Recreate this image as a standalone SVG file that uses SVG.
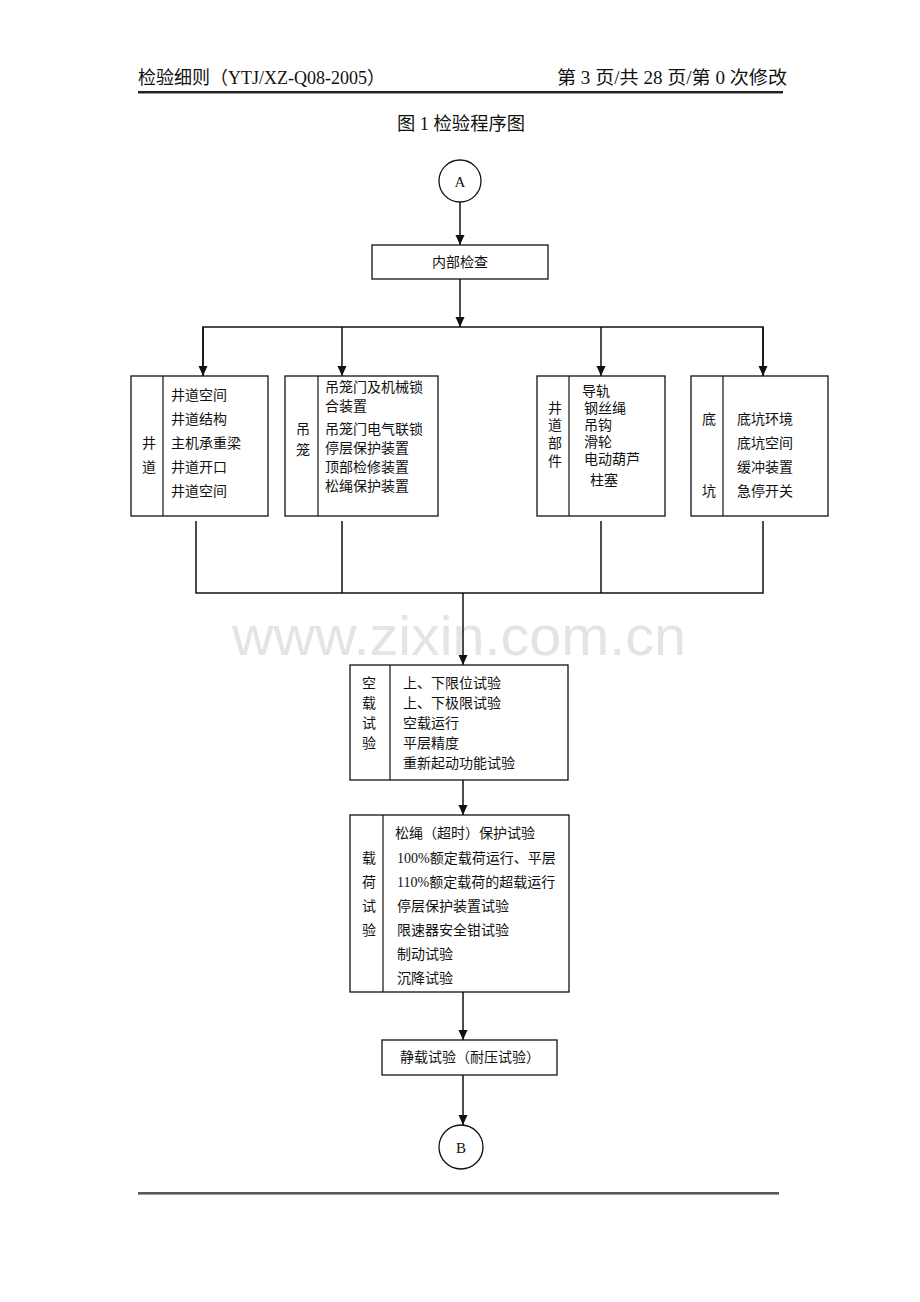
<svg xmlns="http://www.w3.org/2000/svg" width="920" height="1302" viewBox="0 0 920 1302">
<style>
text{font-family:"Liberation Serif","Noto Sans CJK SC",serif;fill:#111;font-size:14px}
.hd{font-size:18px}
.tt{font-size:18px}
.box{fill:#fff;stroke:#111;stroke-width:1.3}
.dv{stroke:#111;stroke-width:1.2}
.ln{fill:none;stroke:#111;stroke-width:1.5}
.c{text-anchor:middle}
.wm{font-family:"Liberation Sans",Arial,sans-serif;font-size:56px;fill:#e4e4e4}
</style>
<defs>
<marker id="ah" markerUnits="userSpaceOnUse" markerWidth="12" markerHeight="12" viewBox="0 0 12 12" refX="10" refY="6" orient="auto">
<path d="M0,1.5 L10,6 L0,10.5 Z" fill="#111"/>
</marker>
</defs>
<rect width="920" height="1302" fill="#fff"/>
<g id="header">
<text class="hd" x="138" y="84" textLength="247" lengthAdjust="spacingAndGlyphs">检验细则（YTJ/XZ-Q08-2005）</text>
<text class="hd" x="557" y="84" textLength="230" lengthAdjust="spacingAndGlyphs">第 3 页/共 28 页/第 0 次修改</text>
<line x1="138" y1="92" x2="783" y2="92" stroke="#222" stroke-width="2"/>
<line x1="138" y1="93.5" x2="783" y2="93.5" stroke="#999" stroke-width="1"/>
<text class="tt" x="397" y="130" textLength="128" lengthAdjust="spacingAndGlyphs">图 1 检验程序图</text>
</g>
<text class="wm" x="232" y="655" textLength="454" lengthAdjust="spacingAndGlyphs">www.zixin.com.cn</text>
<g id="connectors">
<line class="ln" x1="460" y1="202" x2="460" y2="245" marker-end="url(#ah)"/>
<line class="ln" x1="460" y1="279" x2="460" y2="327" marker-end="url(#ah)"/>
<polyline class="ln" points="203,376 203,327 763,327 763,376"/>
<line class="ln" x1="203" y1="327" x2="203" y2="376" marker-end="url(#ah)"/>
<line class="ln" x1="342" y1="327" x2="342" y2="376" marker-end="url(#ah)"/>
<line class="ln" x1="601" y1="327" x2="601" y2="376" marker-end="url(#ah)"/>
<line class="ln" x1="763" y1="327" x2="763" y2="376" marker-end="url(#ah)"/>
<polyline class="ln" points="196,521 196,593 763,593 763,521"/>
<line class="ln" x1="342" y1="521" x2="342" y2="593"/>
<line class="ln" x1="601" y1="521" x2="601" y2="593"/>
<line class="ln" x1="463" y1="593" x2="463" y2="665" marker-end="url(#ah)"/>
<line class="ln" x1="463" y1="780" x2="463" y2="815" marker-end="url(#ah)"/>
<line class="ln" x1="463" y1="992" x2="463" y2="1040" marker-end="url(#ah)"/>
<line class="ln" x1="463" y1="1075" x2="463" y2="1125" marker-end="url(#ah)"/>
</g>
<g id="nodeA">
<circle cx="460" cy="181" r="21" fill="#fff" stroke="#111" stroke-width="1.3"/>
<text class="c" x="460" y="187" style="font-size:15px">A</text>
</g>
<g id="inner">
<rect class="box" x="372" y="245" width="176" height="34"/>
<text class="c" x="460" y="267">内部检查</text>
</g>
<g id="shaft">
<rect class="box" x="131" y="376" width="137" height="140"/>
<line class="dv" x1="163" y1="376" x2="163" y2="516"/>
<text class="c" x="149" y="448">井</text>
<text class="c" x="149" y="472">道</text>
<text x="171" y="400">井道空间</text>
<text x="171" y="424">井道结构</text>
<text x="171" y="448">主机承重梁</text>
<text x="171" y="472">井道开口</text>
<text x="171" y="496">井道空间</text>
</g>
<g id="cage">
<rect class="box" x="285" y="376" width="153" height="140"/>
<line class="dv" x1="318" y1="376" x2="318" y2="516"/>
<text class="c" x="303" y="434">吊</text>
<text class="c" x="303" y="455">笼</text>
<text x="325" y="392">吊笼门及机械锁</text>
<text x="325" y="411">合装置</text>
<text x="325" y="434">吊笼门电气联锁</text>
<text x="325" y="453">停层保护装置</text>
<text x="325" y="472">顶部检修装置</text>
<text x="325" y="491">松绳保护装置</text>
</g>
<g id="parts">
<rect class="box" x="537" y="376" width="128" height="140"/>
<line class="dv" x1="569" y1="376" x2="569" y2="516"/>
<text class="c" x="555" y="413">井</text>
<text class="c" x="555" y="430">道</text>
<text class="c" x="555" y="448">部</text>
<text class="c" x="555" y="466">件</text>
<text x="582" y="396">导轨</text>
<text x="584" y="413">钢丝绳</text>
<text x="584" y="430">吊钩</text>
<text x="584" y="447">滑轮</text>
<text x="584" y="464">电动葫芦</text>
<text x="590" y="485">柱塞</text>
</g>
<g id="pit">
<rect class="box" x="691" y="376" width="137" height="140"/>
<line class="dv" x1="723" y1="376" x2="723" y2="516"/>
<text class="c" x="709" y="424">底</text>
<text class="c" x="709" y="496">坑</text>
<text x="737" y="424">底坑环境</text>
<text x="737" y="448">底坑空间</text>
<text x="737" y="472">缓冲装置</text>
<text x="737" y="496">急停开关</text>
</g>
<g id="noload">
<rect class="box" x="350" y="665" width="218" height="115"/>
<line class="dv" x1="390" y1="665" x2="390" y2="780"/>
<text class="c" x="369" y="688">空</text>
<text class="c" x="369" y="708">载</text>
<text class="c" x="369" y="728">试</text>
<text class="c" x="369" y="748">验</text>
<text x="403" y="688">上、下限位试验</text>
<text x="403" y="708">上、下极限试验</text>
<text x="403" y="728">空载运行</text>
<text x="403" y="748">平层精度</text>
<text x="403" y="768">重新起动功能试验</text>
</g>
<g id="load">
<rect class="box" x="350" y="815" width="219" height="177"/>
<line class="dv" x1="383" y1="815" x2="383" y2="992"/>
<text class="c" x="369" y="863">载</text>
<text class="c" x="369" y="887">荷</text>
<text class="c" x="369" y="911">试</text>
<text class="c" x="369" y="935">验</text>
<text x="395" y="838">松绳（超时）保护试验</text>
<text x="397" y="863">100%额定载荷运行、平层</text>
<text x="397" y="887">110%额定载荷的超载运行</text>
<text x="397" y="911">停层保护装置试验</text>
<text x="397" y="935">限速器安全钳试验</text>
<text x="397" y="959">制动试验</text>
<text x="397" y="983">沉降试验</text>
</g>
<g id="static">
<rect class="box" x="382" y="1040" width="175" height="35"/>
<text class="c" x="470" y="1062">静载试验（耐压试验）</text>
</g>
<g id="nodeB">
<circle cx="461" cy="1147" r="22" fill="#fff" stroke="#111" stroke-width="1.3"/>
<text class="c" x="461" y="1153" style="font-size:15px">B</text>
</g>
<g id="footer">
<line x1="138" y1="1193" x2="779" y2="1193" stroke="#222" stroke-width="1.5"/>
<line x1="138" y1="1194.5" x2="779" y2="1194.5" stroke="#999" stroke-width="1"/>
</g>
</svg>
